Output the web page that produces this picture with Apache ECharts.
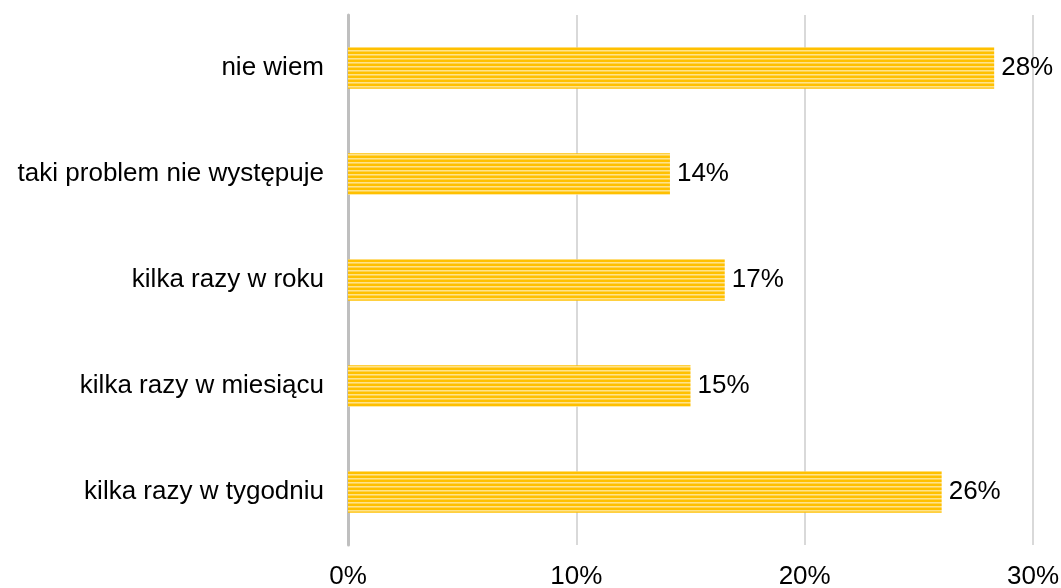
<!DOCTYPE html>
<html>
<head>
<meta charset="utf-8">
<script src="https://cdn.jsdelivr.net/npm/echarts@6/dist/echarts.min.js"></script>
<style>
  html, body { margin: 0; padding: 0; background: #fff; }
  #chart { width: 1061px; height: 588px; }
</style>
</head>
<body>
<div id="chart"></div>
<script>
// odpowiedzi (od dołu do góry)
var categories = [
  "kilka razy w tygodniu",
  "kilka razy w miesiącu",
  "kilka razy w roku",
  "taki problem nie występuje",
  "nie wiem"
];
var values = [26, 15, 16.5, 14.1, 28.3];
var ticks = [0, 10, 20, 30];

// paski w poziome prążki
var stripe = document.createElement("canvas");
stripe.width = 4;
stripe.height = 4;
var ctx = stripe.getContext("2d");
ctx.fillStyle = "#FFC000";
ctx.fillRect(0, 0, 4, 4);
ctx.fillStyle = "#FFE38A";
ctx.fillRect(0, 2, 4, 1);
ctx.fillStyle = "#FFD24D";
ctx.fillRect(0, 3, 4, 1);

var mychart = echarts.init(document.getElementById("chart"));
var option = {
  animation: false,
  textStyle: { fontFamily: "Liberation Sans, Arial, sans-serif" },
  grid: {
    left: 348,
    right: 28,
    top: 15,
    bottom: 43,
    containLabel: false,
    outerBoundsMode: "none"
  },
  xAxis: {
    type: "value",
    min: ticks[0],
    max: ticks[ticks.length - 1],
    interval: 10,
    axisLabel: {
      formatter: "{value}%",
      fontSize: 26,
      color: "#000",
      margin: 19
    },
    axisLine: { show: false },
    axisTick: { show: false },
    splitLine: {
      show: true,
      lineStyle: { color: "#D9D9D9", width: 2 }
    }
  },
  yAxis: {
    type: "category",
    data: categories,
    axisLabel: {
      fontSize: 26,
      color: "#000",
      margin: 24
    },
    axisLine: {
      show: true,
      lineStyle: { color: "#BFBFBF", width: 3 }
    },
    axisTick: { show: false }
  },
  series: [
    {
      type: "bar",
      data: values,
      barWidth: "39%",
      itemStyle: {
        color: { image: stripe, repeat: "repeat" }
      },
      label: {
        show: true,
        position: "right",
        distance: 7,
        fontSize: 26,
        color: "#000",
        formatter: function (p) {
          return Math.round(p.value) + "%";
        }
      }
    }
  ]
};
mychart.setOption(option);
</script>
</body>
</html>
